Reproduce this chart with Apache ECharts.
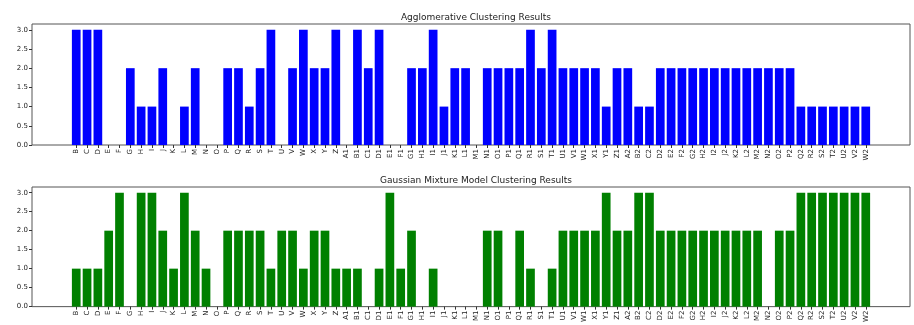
<!DOCTYPE html>
<html>
<head>
<meta charset="utf-8">
<script src="https://cdn.jsdelivr.net/npm/echarts@6/dist/echarts.min.js"></script>
<style>html,body{margin:0;padding:0;background:#fff;}#c{width:914px;height:325px;}</style>
</head>
<body>
<div id="c"></div>
<script>
const categories = ['B','C','D','E','F','G','H','I','J','K','L','M','N','O','P','Q','R','S','T','U','V','W','X','Y','Z',
  'A1','B1','C1','D1','E1','F1','G1','H1','I1','J1','K1','L1','M1','N1','O1','P1','Q1','R1','S1','T1','U1','V1','W1','X1','Y1','Z1',
  'A2','B2','C2','D2','E2','F2','G2','H2','I2','J2','K2','L2','M2','N2','O2','P2','Q2','R2','S2','T2','U2','V2','W2'];
const aggloValues = [3,3,3,0,0,2,1,1,2,0,1,2,0,0,2,2,1,2,3,0,2,3,2,2,3,
  0,3,2,3,0,0,2,2,3,1,2,2,0,2,2,2,2,3,2,3,2,2,2,2,1,2,
  2,1,1,2,2,2,2,2,2,2,2,2,2,2,2,2,1,1,1,1,1,1,1];
const gmmValues = [1,1,1,2,3,0,3,3,2,1,3,2,1,0,2,2,2,2,1,2,2,1,2,2,1,
  1,1,0,1,3,1,2,0,1,0,0,0,0,2,2,0,2,1,0,1,2,2,2,2,3,2,
  2,3,3,2,2,2,2,2,2,2,2,2,2,0,2,2,3,3,3,3,3,3,3];
const yTicks = [0,0.5,1,1.5,2,2.5,3];
const titles = ['Agglomerative Clustering Results','Gaussian Mixture Model Clustering Results'];

const idx = categories.map((c,i)=>i);
const font = 'DejaVu Sans';
function xAxis(gi){
  return {type:'value', gridIndex:gi, min:-4.09, max:77.09, position:'bottom',
    axisLine:{show:false, onZero:false}, splitLine:{show:false},
    axisTick:{show:true, customValues:idx, length:3, lineStyle:{color:'#333'}},
    axisLabel:{show:true, customValues:idx, rotate:90, fontSize:7, fontFamily:font, color:'#222', margin:4,
      formatter:v=>categories[Math.round(v)]||''}};
}
function yAxis(gi){
  return {type:'value', gridIndex:gi, min:0, max:3.15, position:'left',
    axisLine:{show:false, onZero:false}, splitLine:{show:false},
    axisTick:{show:true, customValues:yTicks, length:3, lineStyle:{color:'#333'}},
    axisLabel:{show:true, customValues:yTicks, fontSize:7, fontFamily:font, color:'#222', margin:4,
      formatter:v=>v.toFixed(1)}};
}
const chart = echarts.init(document.getElementById('c'));
chart.setOption({
  animation:false,
  backgroundColor:'#fff',
  title:[
    {text:titles[0], left:471, top:8, textAlign:'center', textStyle:{fontSize:9, fontWeight:'normal', fontFamily:font, color:'#222'}},
    {text:titles[1], left:471, top:171, textAlign:'center', textStyle:{fontSize:9, fontWeight:'normal', fontFamily:font, color:'#222'}}
  ],
  grid:[
    {left:32, right:4, top:24, height:121, show:true, borderColor:'#555', borderWidth:1, backgroundColor:'transparent'},
    {left:32, right:4, top:187, height:121, show:true, borderColor:'#555', borderWidth:1, backgroundColor:'transparent'}
  ],
  xAxis:[xAxis(0), xAxis(1)],
  yAxis:[yAxis(0), yAxis(1)],
  series:[
    {type:'bar', xAxisIndex:0, yAxisIndex:0, barWidth:8.7, itemStyle:{color:'#0000ff'},
      data:aggloValues.map((v,i)=>[i,v])},
    {type:'bar', xAxisIndex:1, yAxisIndex:1, barWidth:8.7, itemStyle:{color:'#008000'},
      data:gmmValues.map((v,i)=>[i,v])}
  ]
});
</script>
</body>
</html>
